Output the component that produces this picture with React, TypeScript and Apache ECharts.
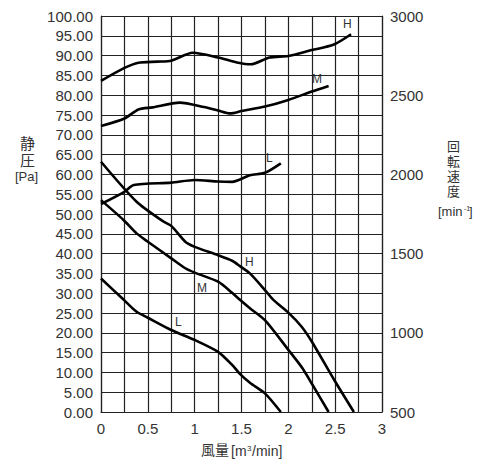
import React, { useEffect, useRef } from "react";
import * as echarts from "echarts";

const xTicks = [0, 0.5, 1, 1.5, 2, 2.5, 3];
const rpmTickLabels = [500, 1000, 1500, 2000, 2500, 3000];

const pressureH: [number, number][] = [
  [0, 63.2], [0.38, 53.1], [0.66, 48.2], [0.75, 47.0], [0.9, 43.0], [1.0, 41.7], [1.25, 39.6],
  [1.4, 38.2], [1.48, 36.9], [1.59, 35.0], [1.75, 30.8], [1.84, 28.3], [2.0, 25.1],
  [2.14, 21.6], [2.25, 17.8], [2.5, 7.7], [2.7, 0],
];
const pressureM: [number, number][] = [
  [0, 53.5], [0.24, 48.5], [0.38, 45.1], [0.5, 43.0], [0.75, 38.8], [0.9, 36.3], [1.0, 35.2],
  [1.25, 32.9], [1.4, 30.1], [1.48, 28.4], [1.59, 26.2], [1.75, 23.2], [2.0, 15.7],
  [2.14, 11.4], [2.25, 7.2], [2.43, 0],
];
const pressureL: [number, number][] = [
  [0, 33.7], [0.24, 28.4], [0.38, 25.3], [0.5, 23.8], [0.75, 20.7], [1.0, 18.2], [1.25, 15.2],
  [1.4, 11.9], [1.48, 9.7], [1.59, 7.4], [1.75, 4.7], [1.92, 0],
];
const rpmH: [number, number][] = [
  [0, 2590], [0.25, 2672], [0.4, 2705], [0.6, 2712], [0.75, 2718], [0.98, 2768], [1.25, 2738],
  [1.45, 2707], [1.6, 2695], [1.8, 2738], [2.0, 2748], [2.25, 2785], [2.48, 2818], [2.67, 2885],
];
const rpmM: [number, number][] = [
  [0, 2305], [0.25, 2353], [0.4, 2410], [0.55, 2423], [0.84, 2453], [1.1, 2425], [1.25, 2403],
  [1.38, 2385], [1.5, 2400], [1.75, 2428], [2.0, 2470], [2.25, 2523], [2.43, 2558],
];
const rpmL: [number, number][] = [
  [0, 1813], [0.25, 1890], [0.35, 1933], [0.75, 1948], [1.0, 1965], [1.25, 1955], [1.4, 1953],
  [1.59, 1995], [1.75, 2010], [1.92, 2070],
];

const FONT = "'Liberation Sans', Arial, sans-serif";
const CJK = "'Liberation Sans', 'Noto Sans CJK JP', sans-serif";
const TXT = "#333";

export default function App() {
  const ref = useRef<HTMLDivElement>(null);
  useEffect(() => {
    if (!ref.current) return;
    const chart = echarts.init(ref.current, null, { renderer: "svg" });
    const line = (data: [number, number][], yAxisIndex: number) => ({
      type: "line",
      data,
      yAxisIndex,
      smooth: 0.25,
      symbol: "none",
      lineStyle: { color: "#000", width: 2.6 },
      silent: true,
    });
    const txt = (text: string, x: number, y: number, size: number, font = FONT, lh?: number) => ({
      type: "text",
      left: x,
      top: y,
      style: { text, fontSize: size, fill: TXT, fontFamily: font, lineHeight: lh ?? size },
    });
    chart.setOption({
      animation: false,
      grid: { left: 101, right: 106, top: 16, bottom: 51 },
      xAxis: {
        type: "value",
        min: 0,
        max: 3,
        interval: 0.25,
        axisLine: { show: true, lineStyle: { color: "#222", width: 1.2 } },
        axisTick: { show: false },
        splitLine: { show: true, lineStyle: { color: "#222", width: 1.2 } },
        axisLabel: {
          fontSize: 15,
          color: TXT,
          fontFamily: FONT,
          margin: 9,
          formatter: (v: number) => (xTicks.some((t) => Math.abs(t - v) < 1e-6) ? String(v) : ""),
        },
      },
      yAxis: [
        {
          type: "value",
          min: 0,
          max: 100,
          interval: 5,
          axisLine: { show: true, lineStyle: { color: "#222", width: 1.2 } },
          axisTick: { show: false },
          splitLine: { show: true, lineStyle: { color: "#222", width: 1.2 } },
          axisLabel: {
            fontSize: 15,
            color: TXT,
            fontFamily: FONT,
            margin: 8,
            formatter: (v: number) => v.toFixed(2),
          },
        },
        {
          type: "value",
          min: 500,
          max: 3000,
          interval: 125,
          position: "right",
          axisLine: { show: true, lineStyle: { color: "#222", width: 1.2 } },
          axisTick: { show: false },
          splitLine: { show: false },
          axisLabel: {
            fontSize: 15,
            color: TXT,
            fontFamily: FONT,
            margin: 8,
            formatter: (v: number) => (rpmTickLabels.includes(v) ? String(v) : ""),
          },
        },
      ],
      graphic: [
        txt("H", 343, 18, 12),
        txt("M", 312, 73, 12),
        txt("L", 266, 152, 12),
        txt("H", 245, 256, 12),
        txt("M", 197, 282, 12),
        txt("L", 175, 316, 12),
        txt("静", 20, 136, 15, CJK, 15),
        txt("圧", 20, 153, 15, CJK, 15),
        txt("[Pa]", 15, 170, 13, FONT, 13),
        txt("回", 447, 140, 13, CJK, 13),
        txt("転", 447, 155, 13, CJK, 13),
        txt("速", 447, 170, 13, CJK, 13),
        txt("度", 447, 185, 13, CJK, 13),
        txt("[min", 438, 205, 13, FONT, 13),
        txt("-1", 464, 205, 7, FONT, 7),
        txt("]", 469, 205, 13, FONT, 13),
        txt("風量", 201, 443, 14, CJK, 14),
        txt("[m", 231, 444, 14, FONT, 14),
        txt("3", 247, 444, 8, FONT, 8),
        txt("/min]", 252, 444, 14, FONT, 14),
      ],
      series: [
        line(pressureH, 0),
        line(pressureM, 0),
        line(pressureL, 0),
        line(rpmH, 1),
        line(rpmM, 1),
        line(rpmL, 1),
      ],
    });
    return () => chart.dispose();
  }, []);
  return (
    <div
      ref={ref}
      style={{ position: "fixed", left: 0, top: 0, width: 488, height: 463, background: "#fff" }}
    />
  );
}
